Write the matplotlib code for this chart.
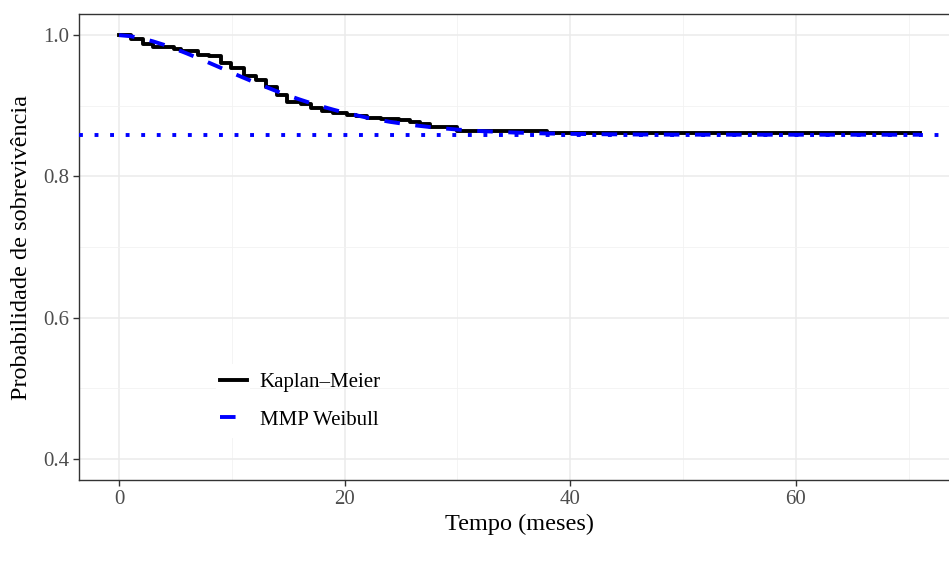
import matplotlib
matplotlib.use("Agg")
import matplotlib.pyplot as plt
from matplotlib.patches import Rectangle
from matplotlib.lines import Line2D

plt.rcParams['font.family'] = ['Liberation Serif', 'DejaVu Serif']

# Kaplan-Meier estimate (step function)
km_time = [0, 1.1, 2.1, 3.0, 4.9, 5.5, 7.0, 8.0, 9.0, 9.9, 11.1, 12.1, 13.0, 14.0,
           14.9, 16.1, 17.0, 18.0, 19.0, 20.2, 21.0, 22.0, 23.2, 24.8, 25.8, 26.7,
           27.6, 30.0, 37.9, 71.0]
km_surv = [1.0, 0.994, 0.987, 0.983, 0.980, 0.977, 0.9725, 0.970, 0.960, 0.953,
           0.942, 0.936, 0.927, 0.915, 0.905, 0.902, 0.897, 0.892, 0.890, 0.887,
           0.885, 0.882, 0.881, 0.880, 0.877, 0.874, 0.870, 0.865, 0.861, 0.861]

# MMP Weibull fitted curve
wb_time = [0, 1, 2, 3, 4, 5, 6, 7, 8, 9, 10, 11, 12, 13, 14, 15, 16, 17, 18, 19,
           20, 22, 24, 26, 28, 30, 32, 35, 38, 42, 46, 50, 60, 71]
wb_surv = [1.0, 0.9986, 0.9955, 0.9913, 0.9863, 0.9805, 0.9742, 0.9676, 0.9608,
           0.9539, 0.9468, 0.9400, 0.9333, 0.9268, 0.9205, 0.9146, 0.9090, 0.9038,
           0.8990, 0.8945, 0.8903, 0.8831, 0.8773, 0.8727, 0.8691, 0.8663, 0.8642,
           0.8621, 0.8607, 0.8598, 0.8593, 0.8591, 0.8590, 0.8590]

cure_fraction = 0.859

x_ticks = [0, 20, 40, 60]
x_minor = [10, 30, 50, 70]
y_ticks = [0.4, 0.6, 0.8, 1.0]
y_minor = [0.5, 0.7, 0.9]

fig = plt.figure(figsize=(9.49, 5.63), dpi=100)
W, H = 949, 563
left, right, top, bottom = 79, 960, 14, 480
ax = fig.add_axes([left / W, 1 - bottom / H, (right - left) / W, (bottom - top) / H])

ax.set_xlim(-3.55, 74.55)
ax.set_ylim(0.37, 1.03)

# ggplot theme_bw grid
for v in x_ticks:
    ax.axvline(v, color='#EBEBEB', lw=1.1, zorder=0)
for v in x_minor:
    ax.axvline(v, color='#F2F2F2', lw=0.6, zorder=0)
for v in y_ticks:
    ax.axhline(v, color='#EBEBEB', lw=1.1, zorder=0)
for v in y_minor:
    ax.axhline(v, color='#F2F2F2', lw=0.6, zorder=0)

ax.step(km_time, km_surv, where='post', color='black', lw=2.8, zorder=3)
ax.plot(wb_time, wb_surv, color='#0000FF', lw=2.8, dashes=(4, 4), zorder=4)
ax.axhline(cure_fraction, color='#0000FF', lw=2.8, dashes=(1, 3), zorder=5)

ax.set_xticks(x_ticks)
ax.set_yticks(y_ticks)
ax.set_xticklabels([str(v) for v in x_ticks])
ax.set_yticklabels(['%.1f' % v for v in y_ticks])
ax.tick_params(axis='both', length=4, width=1, color='#333333',
               labelcolor='#4D4D4D', labelsize=15, pad=3)

for s in ax.spines.values():
    s.set_color('#333333')
    s.set_linewidth(1.0)

ax.set_xlabel('Tempo (meses)', fontsize=17.5, color='black', labelpad=4)
ax.set_ylabel('Probabilidade de sobrevivência', fontsize=17.5, color='black', labelpad=8)

# white legend key background (covers grid like ggplot legend.key)
ax.add_patch(Rectangle((0.1555, 0.09), 0.0386, 0.158, transform=ax.transAxes,
                       facecolor='white', edgecolor='none', zorder=1))

handles = [Line2D([], [], color='black', lw=2.8),
           Line2D([], [], color='#0000FF', lw=2.8, dashes=(4, 4))]
ax.legend(handles, ['Kaplan\u2013Meier', 'MMP Weibull'], loc='center left',
          bbox_to_anchor=(0.160, 0.169), frameon=False, fontsize=15,
          handlelength=1.3, handletextpad=0.6, labelspacing=0.85, borderpad=0,
          borderaxespad=0)

fig.savefig('out.png', dpi=100)
